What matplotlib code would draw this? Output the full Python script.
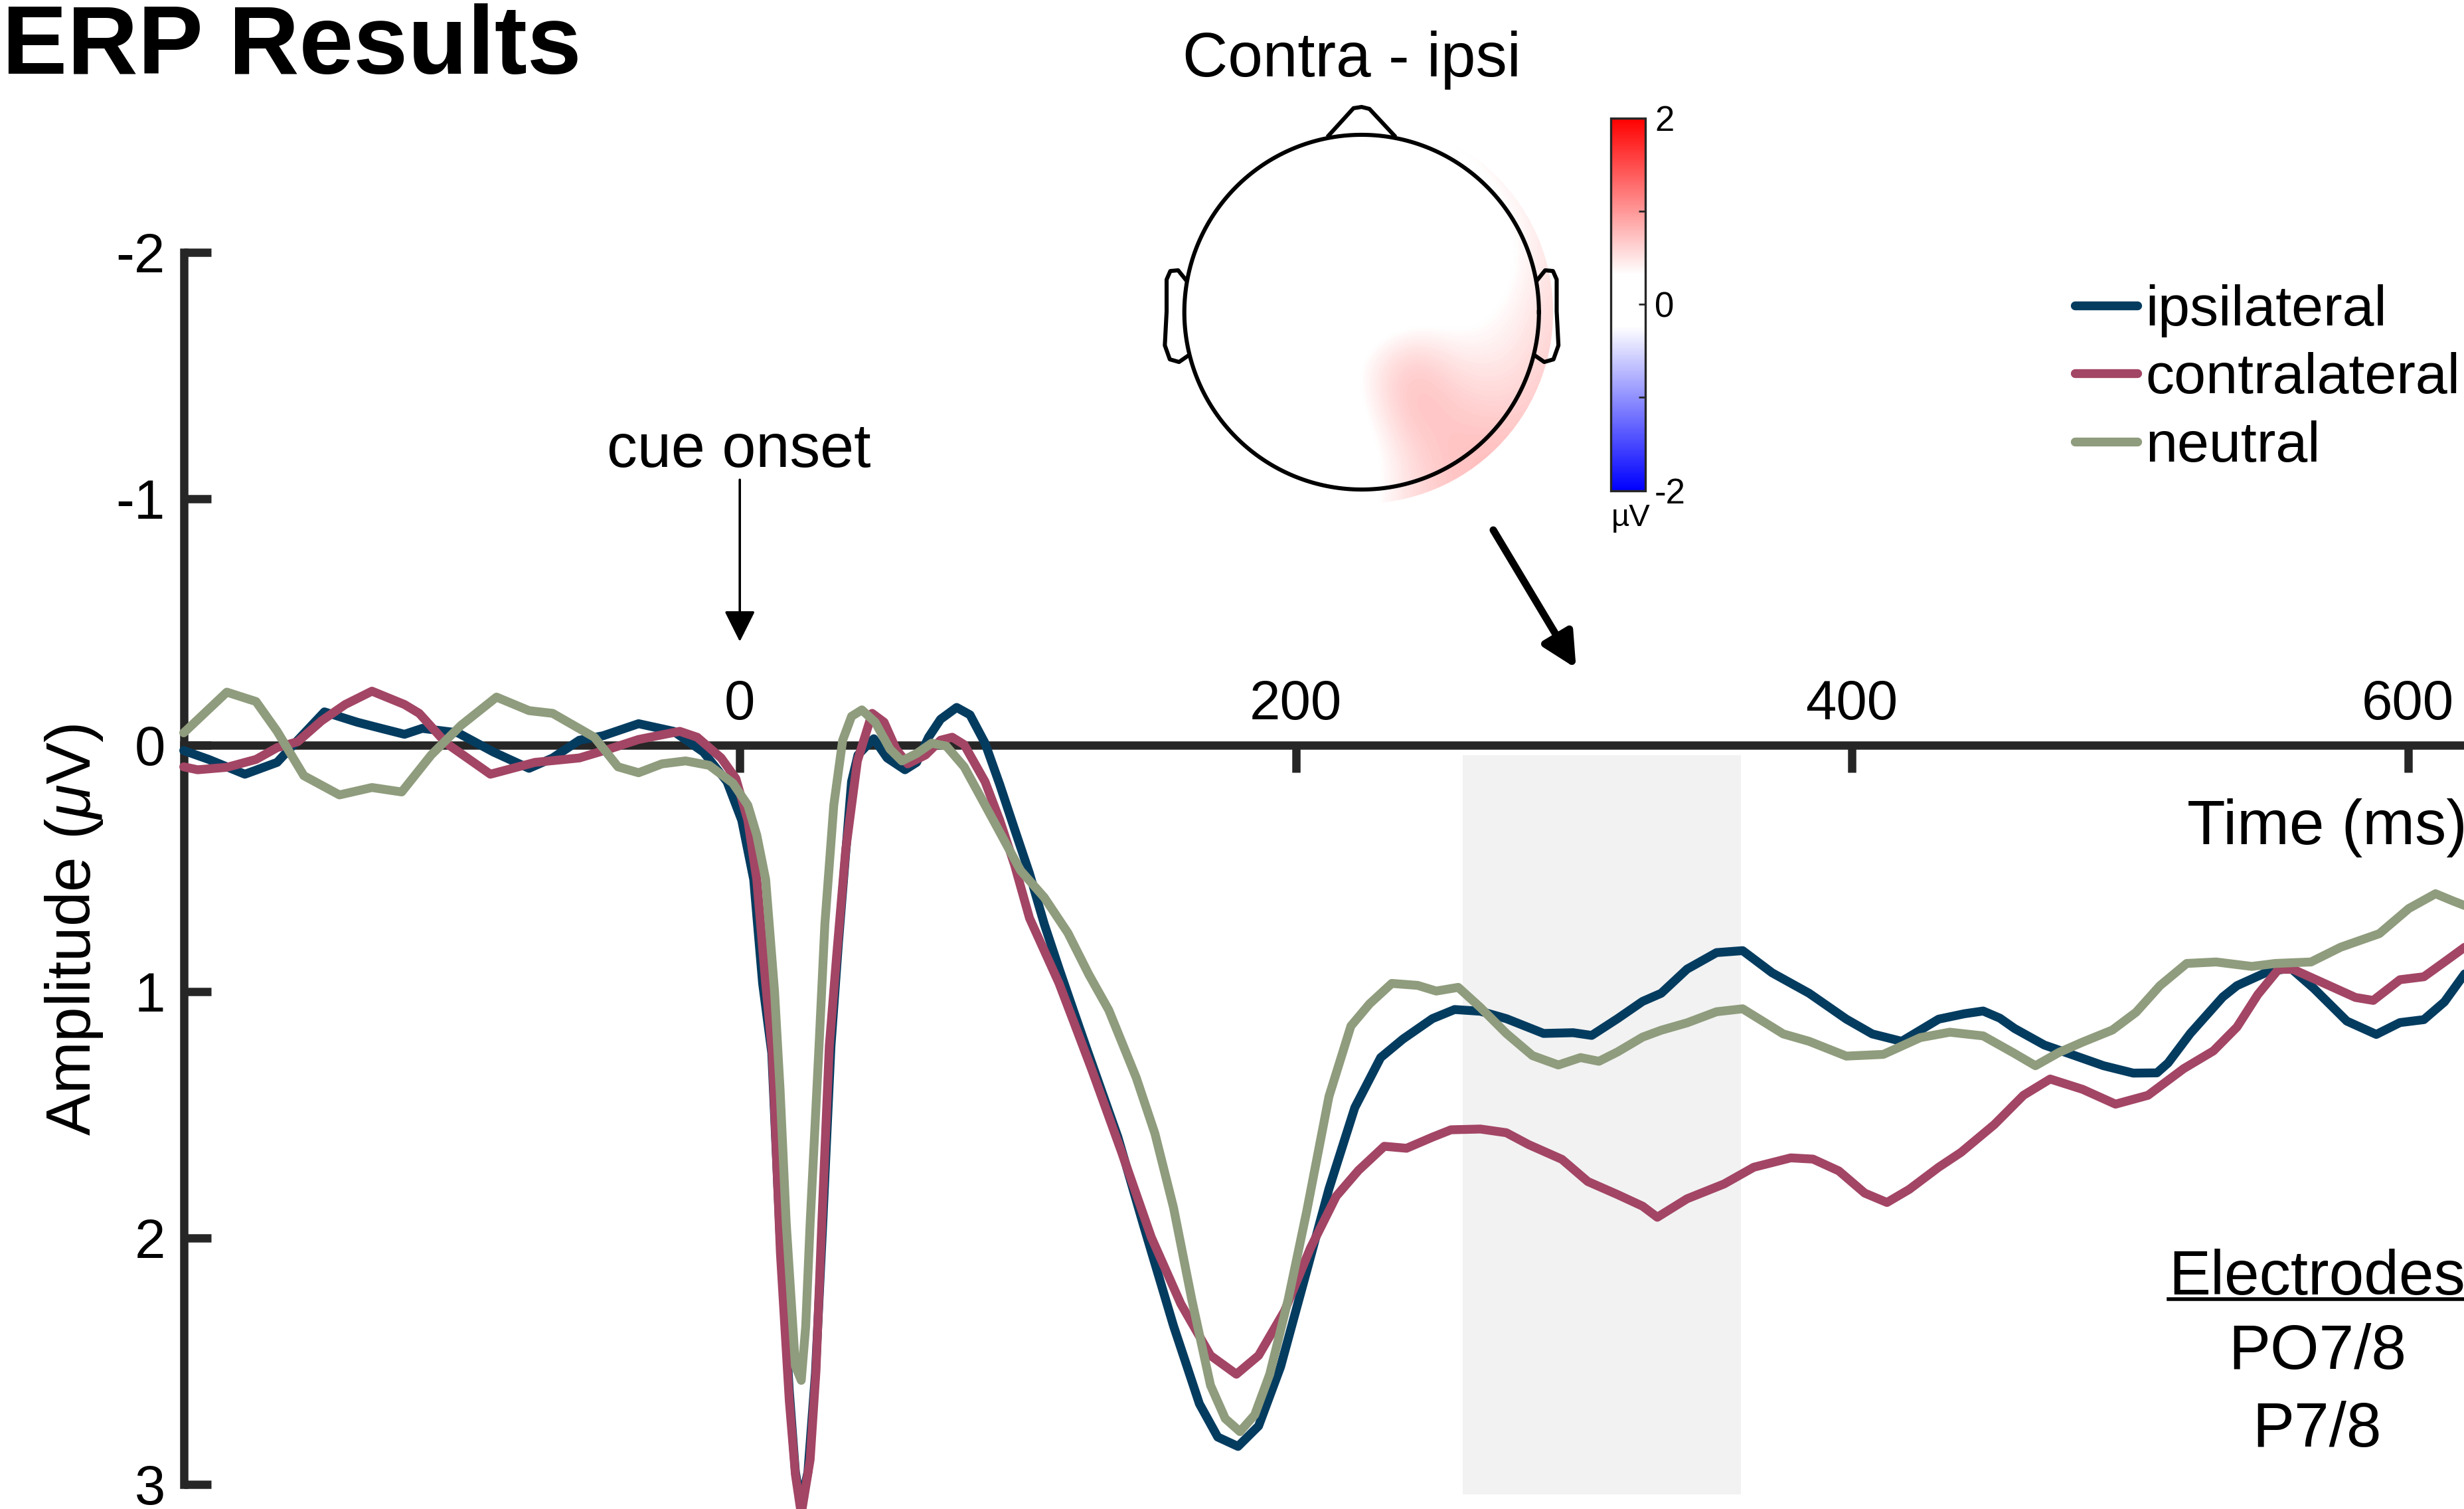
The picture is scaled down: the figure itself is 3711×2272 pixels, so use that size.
import numpy as np
import matplotlib
matplotlib.use('Agg')
import matplotlib.pyplot as plt
from matplotlib.colors import LinearSegmentedColormap
from matplotlib.patches import Circle
from matplotlib.lines import Line2D

plt.rcParams['font.family'] = ['Liberation Sans', 'DejaVu Sans']
plt.rcParams['mathtext.fontset'] = 'custom'
plt.rcParams['mathtext.rm'] = 'Liberation Sans'
plt.rcParams['mathtext.it'] = 'Liberation Sans:italic'
plt.rcParams['axes.unicode_minus'] = False

# ---- ERP data (ms, microvolts) ----
ipsi_t = [-200, -191, -178, -166.4, -159, -149.4, -137.6, -129, -120.6, -114.2, -101.4, -88.6, -75.8,
          -67.3, -57.7, -49.2, -36.4, -23.8, -13.1, -4.6, 0.7, 5, 8.2, 11.5, 14.5, 17.8, 20, 22, 24.5,
          27.2, 29.8, 32.8, 35.5, 38, 40.2, 42.5, 45.5, 48.2, 53, 59.4, 63.6, 67.9, 72.2, 78, 82.8, 88.2,
          93.5, 98.8, 104.2, 109.5, 114.8, 120.1, 124.4, 136, 145.3, 156, 165.3, 171.9, 179.2, 186.6,
          194.5, 202.5, 211.9, 221.2, 230.5, 238.5, 249.1, 257.1, 266.4, 275.7, 289.1, 299.7, 306.4,
          315.7, 324.7, 331.4, 340.7, 351.3, 360.7, 371.3, 384.6, 398, 407.3, 417.9, 431.2, 440.5,
          447.2, 453.2, 458.5, 469.2, 479.9, 490.5, 501.2, 509.7, 513.7, 521.7, 533.4, 538.5, 549.1,
          557.7, 566.2, 578, 588.6, 597.1, 605.7, 613.1, 620.4]
ipsi_v = [0.022, 0.058, 0.118, 0.07, -0.02, -0.135, -0.093, -0.068, -0.044, -0.068, -0.05, 0.028, 0.094,
          0.052, -0.02, -0.038, -0.087, -0.056, 0.028, 0.148, 0.305, 0.545, 0.966, 1.25, 2.0, 2.62, 2.95,
          3.08, 2.95, 2.55, 1.95, 1.22, 0.8, 0.45, 0.148, 0.04, 0.004, -0.026, 0.052, 0.1, 0.07, -0.032,
          -0.105, -0.153, -0.123, -0.008, 0.16, 0.34, 0.521, 0.726, 0.906, 1.08, 1.22, 1.591, 1.952,
          2.357, 2.673, 2.808, 2.846, 2.763, 2.523, 2.192, 1.801, 1.471, 1.268, 1.193, 1.11, 1.073, 1.08,
          1.11, 1.17, 1.167, 1.178, 1.11, 1.04, 1.007, 0.909, 0.842, 0.834, 0.924, 1.007, 1.112, 1.172,
          1.202, 1.112, 1.09, 1.079, 1.108, 1.15, 1.217, 1.259, 1.301, 1.331, 1.33, 1.29, 1.17, 1.022,
          0.976, 0.922, 0.904, 0.988, 1.12, 1.174, 1.126, 1.114, 1.042, 0.928]

contra_t = [-200, -195, -184.5, -174, -166.4, -159, -150.4, -141.9, -132.3, -120.6, -115.3, -105.6, -89.7,
            -73.7, -57.7, -47, -36.4, -21.6, -15.3, -6.7, -1.4, 2.9, 6.1, 9.3, 11.7, 14.6, 17.8, 20, 22.1,
            25.3, 27.4, 29.5, 32.2, 34.9, 38.1, 42.3, 47.6, 51.9, 56.2, 60.4, 66.8, 72.2, 76.4, 80.7, 88.2,
            93.5, 98.8, 104.2, 109.5, 114.8, 120.1, 126.7, 137.3, 148, 158.6, 169.3, 178.6, 186.6, 195.9,
            205.2, 214.5, 222.5, 231.8, 239.8, 249.1, 255.8, 266.4, 275.7, 283.7, 295.7, 305, 315.7, 324.7,
            330, 340.7, 354, 364.7, 378, 386, 395.3, 404.6, 412.6, 420.6, 431.2, 439.2, 451.2, 461.7,
            471.3, 483, 494.8, 506.5, 519.3, 530, 538.5, 546, 553.4, 558.7, 570.5, 581.1, 587.5, 597.1,
            605.7, 613.1, 620.4]
contra_v = [0.088, 0.1, 0.09, 0.058, 0.01, -0.014, -0.099, -0.165, -0.219, -0.165, -0.129, -0.008, 0.118,
            0.07, 0.052, 0.016, -0.023, -0.056, -0.032, 0.052, 0.136, 0.305, 0.545, 0.966, 1.25, 2.06,
            2.66, 2.96, 3.12, 2.9, 2.54, 1.94, 1.22, 0.846, 0.425, 0.064, -0.129, -0.093, 0.016, 0.076,
            0.04, -0.02, -0.032, -0.002, 0.148, 0.305, 0.485, 0.702, 0.834, 0.966, 1.123, 1.32, 1.651,
            1.997, 2.267, 2.477, 2.553, 2.477, 2.297, 2.042, 1.831, 1.726, 1.628, 1.636, 1.591, 1.561,
            1.558, 1.573, 1.621, 1.681, 1.771, 1.824, 1.871, 1.916, 1.841, 1.781, 1.713, 1.675, 1.68,
            1.728, 1.818, 1.856, 1.803, 1.713, 1.653, 1.54, 1.421, 1.355, 1.397, 1.457, 1.421, 1.313,
            1.241, 1.144, 1.012, 0.91, 0.91, 0.97, 1.024, 1.036, 0.952, 0.94, 0.88, 0.82]

neutral_t = [-200, -184.5, -174, -166.4, -156.8, -144, -132.3, -121.6, -111, -100.3, -87.5, -75.8, -67.3,
             -52.3, -43.8, -36.4, -28, -19.5, -11, -2.5, 2.9, 6.1, 9.3, 12.5, 14.5, 16.7, 20, 22.1, 23.7,
             25.3, 28.5, 30.6, 33.8, 37, 40.2, 43.9, 48.7, 54, 58.3, 63.6, 69, 74.3, 80.7, 87.1, 93.5, 101,
             109.5, 118, 125.5, 132.7, 142.6, 149.3, 156, 162.6, 169.3, 174.6, 179.9, 185.2, 190.6, 197.2,
             203.9, 211.9, 219.8, 226.5, 234.5, 243.8, 250.5, 258.4, 266.4, 275.7, 285.1, 294.4, 302.4,
             309, 315.7, 324.7, 331.4, 340.7, 351.3, 360.7, 375.3, 384.6, 398, 411.3, 424.6, 435.2, 447.2,
             457.8, 466, 474.5, 483, 493.7, 502.2, 510.8, 520.4, 531, 543.8, 552.3, 565.1, 575.8, 589.7,
             600.3, 609.9, 616.3, 620.4]
neutral_v = [-0.05, -0.215, -0.177, -0.056, 0.124, 0.202, 0.172, 0.19, 0.04, -0.08, -0.195, -0.14, -0.129,
             -0.032, 0.088, 0.112, 0.076, 0.064, 0.082, 0.154, 0.244, 0.365, 0.545, 1.0, 1.4, 1.94, 2.52,
             2.578, 2.36, 1.94, 1.22, 0.726, 0.244, -0.02, -0.117, -0.143, -0.093, 0.016, 0.064, 0.034,
             -0.008, 0.004, 0.088, 0.22, 0.353, 0.509, 0.618, 0.762, 0.93, 1.075, 1.35, 1.576, 1.877,
             2.252, 2.598, 2.733, 2.786, 2.718, 2.553, 2.252, 1.892, 1.426, 1.14, 1.05, 0.967, 0.975,
             0.998, 0.983, 1.065, 1.17, 1.26, 1.298, 1.268, 1.283, 1.245, 1.185, 1.157, 1.127, 1.082,
             1.07, 1.172, 1.202, 1.262, 1.255, 1.187, 1.165, 1.18, 1.247, 1.301, 1.247, 1.205, 1.156,
             1.084, 0.976, 0.886, 0.88, 0.898, 0.886, 0.88, 0.82, 0.765, 0.663, 0.603, 0.633, 0.651]

labels = ['ipsilateral', 'contralateral', 'neutral']
colors = ['#043c60', '#a34564', '#8f9c7d']
window_ms = [260, 360]
window_amp = [0.04, 3.04]
xticks = [0, 200, 400, 600]
yticks = [-2, -1, 0, 1, 2, 3]
cue_ms = 0
electrodes = ['PO7/8', 'P7/8']

# contra - ipsi scalp map, 9x9 grid over the head (rows top -> bottom)
topo_vals = [
    [0, 0, 0, 0, 0, 0.25, 0.45, 0.50, 0.50],
    [0, 0, 0, 0, 0, 0.10, 0.25, 0.45, 0.55],
    [0, 0, 0, 0, 0, 0.00, 0.10, 0.30, 0.55],
    [0, 0, 0, 0, 0, 0.00, 0.05, 0.25, 0.55],
    [0, 0, 0, 0, 0, 0.15, 0.20, 0.35, 0.60],
    [0, 0, 0, 0, 0.35, 0.75, 0.45, 0.45, 0.65],
    [0, 0, 0, 0, 0.25, 0.80, 0.65, 0.60, 0.70],
    [0, 0, 0, 0, 0.10, 0.55, 0.75, 0.75, 0.75],
    [0, 0, 0, 0, 0.20, 0.55, 0.70, 0.75, 0.75],
]

W, H, DPI = 3712, 2272, 200
axc = '#262626'


def fx(x):
    return x / W


def fy(y):
    return 1 - y / H


fig = plt.figure(figsize=(W / DPI, H / DPI), dpi=DPI)
ax = fig.add_axes([0, 0, 1, 1])
ax.set_xlim(-266.08, 620.38)
ax.set_ylim(3.1, -3.024)

ax.fill_between(window_ms, window_amp[0], window_amp[1], color='#f2f2f2', lw=0, zorder=0)

lines = []
for t, v, c, lab in zip([ipsi_t, contra_t, neutral_t], [ipsi_v, contra_v, neutral_v], colors, labels):
    ln, = ax.plot(t, v, color=c, lw=4.8, label=lab, clip_on=False,
                  solid_joinstyle='round', solid_capstyle='round', zorder=3)
    lines.append(ln)

for s in ['right', 'bottom']:
    ax.spines[s].set_visible(False)
ax.spines['left'].set_position(('data', -200))
ax.spines['left'].set_bounds(-2, 3)
ax.spines['top'].set_position(('data', 0))
ax.spines['top'].set_bounds(-200, 620.38)
for s in ['left', 'top']:
    ax.spines[s].set_linewidth(4.5)
    ax.spines[s].set_color(axc)
ax.xaxis.tick_top()
ax.set_xticks(xticks)
ax.set_yticks(yticks)
ax.tick_params(axis='both', direction='in', length=14.8, width=4.5, color=axc, labelsize=30)
ax.tick_params(axis='x', pad=8)
ax.tick_params(axis='y', pad=10)

# annotations
ax.annotate('', xy=(cue_ms, -0.42), xytext=(cue_ms, -1.077),
            arrowprops=dict(arrowstyle='-|>,head_length=0.6,head_width=0.3', mutation_scale=24,
                            lw=1.3, color='k', shrinkA=0, shrinkB=0))
fig.text(fx(1113), fy(703), 'cue onset', ha='center', va='baseline', fontsize=33)
ax.annotate('', xy=(300.8, -0.312), xytext=(271, -0.873),
            arrowprops=dict(arrowstyle='-|>,head_length=0.6,head_width=0.3', mutation_scale=26,
                            lw=4, color='k', shrinkA=0, shrinkB=0))

fig.text(fx(3), fy(111), 'ERP Results', fontweight='bold', fontsize=53, ha='left', va='baseline')
fig.text(fx(3294), fy(1271), 'Time (ms)', ha='left', va='baseline', fontsize=34)
fig.text(fx(112), fy(1400), 'Amplitude ($\\mu$V)', rotation=90, ha='center', va='center', fontsize=34)

ax.legend(lines, labels, loc='upper left', bbox_to_anchor=(fx(3125), fy(428)),
          bbox_transform=fig.transFigure, frameon=False, fontsize=31, handlelength=1.09,
          handletextpad=0.145, labelspacing=0.26, borderpad=0, borderaxespad=0)

fig.text(fx(3490), fy(1949), 'Electrodes', ha='center', va='baseline', fontsize=34)
fig.add_artist(Line2D([fx(3266), 1.0], [fy(1956), fy(1956)], transform=fig.transFigure, lw=2, color='k'))
for lab, yb in zip(electrodes, [2061, 2178]):
    fig.text(fx(3490), fy(yb), lab, ha='center', va='baseline', fontsize=34)

# scalp map
cmap = LinearSegmentedColormap.from_list('bwr_ft', [(0, '#0000ff'), (0.44, '#ffffff'),
                                                    (0.58, '#ffffff'), (1, '#ff0000')])
tax = fig.add_axes([fx(1690), fy(830.5), 721.5 / W, 721 / H])
tax.set_xlim(-1.35, 1.35)
tax.set_ylim(-1.35, 1.35)
tax.axis('off')
im = tax.imshow(topo_vals, cmap=cmap, vmin=-2, vmax=2, origin='upper',
                extent=[-1.2375, 1.2375, -1.2375, 1.2375], interpolation='bicubic')
im.set_clip_path(Circle((0, 0), 1.08, transform=tax.transData))
th = np.linspace(0, 2 * np.pi, 300)
tax.plot(np.cos(th), np.sin(th), color='k', lw=2.2)
tax.plot([-0.186, -0.046, 0, 0.044, 0.184], [0.996, 1.15, 1.157, 1.146, 0.996], color='k', lw=2.2)
ear_x = np.array([-0.993, -1.035, -1.079, -1.1, -1.1, -1.11, -1.082, -1.03, -0.981])
ear_y = np.array([0.184, 0.236, 0.232, 0.184, 0.004, -0.187, -0.266, -0.281, -0.247])
tax.plot(ear_x, ear_y, color='k', lw=2.2)
tax.plot(-ear_x, ear_y, color='k', lw=2.2)
fig.text(fx(2036), fy(115), 'Contra - ipsi', ha='center', va='baseline', fontsize=34)

cax = fig.add_axes([fx(2426), fy(738.5), 52 / W, 561 / H])
cb = fig.colorbar(im, cax=cax, ticks=[-2, -1, 0, 1, 2])
cb.ax.set_yticklabels(['-2', '', '0', '', '2'])
cb.ax.tick_params(direction='in', length=3.6, width=1, labelsize=19, pad=5, color=axc)
cb.outline.set_linewidth(1.2)
cb.outline.set_edgecolor(axc)
fig.text(fx(2456), fy(792), 'µV', ha='center', va='baseline', fontsize=17)

fig.savefig('out.png', dpi=DPI)
